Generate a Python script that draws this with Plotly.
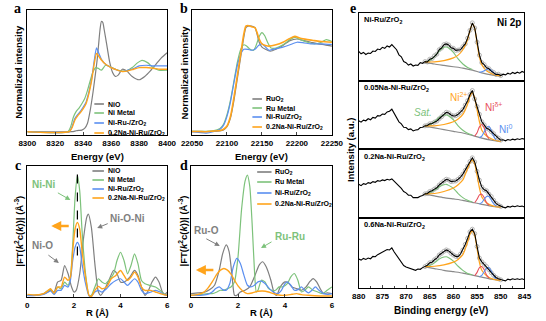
import plotly.graph_objects as go

W, H = 546, 321
SANS = "Liberation Sans, Arial, sans-serif"
SERIF = "Liberation Serif, Times New Roman, serif"

GRAY = "#7f7f7f"
GREEN = "#7dc27b"
BLUE = "#5b8ff0"
ORANGE = "#ffa41c"
RED = "#e8515c"
BGLINE = "#8a8a8a"

# ---------------- Panel a: Ni K-edge XANES ----------------
a_names = ["NiO", "Ni Metal", "Ni-Ru-/ZrO<sub>2</sub>", "0.2Na-Ni-Ru/ZrO<sub>2</sub>"]
a_nio_E = [8300, 8332, 8335, 8337, 8339, 8341, 8343, 8345, 8347, 8349, 8350, 8351, 8352, 8353, 8354, 8355, 8357, 8359,
           8361, 8363, 8365, 8368, 8371, 8375, 8380, 8384, 8388, 8392, 8396, 8400]
a_nio_mu = [0.1, 0.1, 0.13, 0.14, 0.15, 0.2, 0.35, 0.75, 1.3, 1.95, 2.3, 2.75, 3.2, 3.45, 3.42, 3.2, 2.7, 2.2,
            1.9, 1.78, 1.82, 2.0, 1.95, 1.78, 1.68, 1.78, 1.95, 2.15, 2.35, 2.5]
a_met_E = [8300, 8329, 8331, 8333, 8335, 8337, 8339, 8341, 8343, 8345, 8347, 8349, 8351, 8353, 8356, 8359, 8363,
           8367, 8371, 8375, 8379, 8382, 8386, 8390, 8394, 8400]
a_met_mu = [0.1, 0.1, 0.25, 0.55, 0.72, 0.82, 0.95, 1.1, 1.35, 1.65, 1.92, 2.05, 2.02, 1.97, 2.12, 2.08, 2.0,
            1.95, 1.95, 2.05, 2.2, 2.27, 2.2, 2.05, 1.97, 1.97]
a_cat_E = [8300, 8330, 8332, 8334, 8336, 8338, 8340, 8342, 8344, 8346, 8348, 8349.5, 8351, 8353, 8356, 8360, 8364,
           8368, 8372, 8376, 8380, 8385, 8390, 8395, 8400]
a_nirz_mu = [0.1, 0.1, 0.25, 0.5, 0.62, 0.72, 0.85, 1.0, 1.3, 1.7, 2.3, 2.65, 2.5, 2.3, 2.15, 2.05, 1.98,
             1.93, 1.97, 2.02, 2.1, 2.12, 2.1, 2.1, 2.1]
a_na_mu = [0.1, 0.1, 0.22, 0.45, 0.58, 0.68, 0.8, 0.95, 1.25, 1.65, 2.2, 2.48, 2.4, 2.28, 2.15, 2.05, 1.98,
           1.93, 1.95, 2.0, 2.05, 2.05, 2.03, 2.0, 2.0]

# ---------------- Panel b: Ru K-edge XANES ----------------
b_names = ["RuO<sub>2</sub>", "Ru Metal", "Ni-Ru/ZrO<sub>2</sub>", "0.2Na-Ni-Ru/ZrO<sub>2</sub>"]
b_ruo2_E = [22050, 22080, 22095, 22100, 22105, 22110, 22115, 22120, 22124, 22127, 22130, 22135, 22140, 22143, 22146,
            22150, 22155, 22162, 22170, 22180, 22190, 22200, 22210, 22220, 22230, 22240, 22250]
b_ruo2_mu = [0.03, 0.03, 0.08, 0.18, 0.45, 1.0, 1.7, 2.4, 2.95, 3.25, 3.3, 3.3, 3.25, 3.05, 2.8,
             2.65, 2.58, 2.52, 2.58, 2.7, 2.85, 2.9, 2.85, 2.8, 2.75, 2.72, 2.68]
b_met_E = [22050, 22080, 22090, 22095, 22100, 22105, 22110, 22115, 22120, 22124, 22128, 22133, 22138, 22142, 22146,
           22150, 22154, 22158, 22163, 22170, 22180, 22190, 22197, 22205, 22215, 22225, 22235, 22242, 22250]
b_met_mu = [0.03, 0.05, 0.12, 0.25, 0.55, 1.0, 1.6, 2.2, 2.6, 2.72, 2.68, 2.58, 2.55, 2.72, 2.98,
            3.1, 3.0, 2.8, 2.62, 2.62, 2.72, 2.88, 2.95, 2.88, 2.8, 2.75, 2.8, 2.88, 2.82]
b_nirz_E = [22050, 22060, 22070, 22080, 22090, 22095, 22100, 22105, 22110, 22115, 22120, 22124, 22130, 22135, 22140,
            22145, 22150, 22155, 22160, 22170, 22180, 22190, 22200, 22210, 22220, 22235, 22250]
b_nirz_mu = [0.02, 0.0, -0.02, 0.02, 0.1, 0.22, 0.5, 0.95, 1.55, 2.1, 2.45, 2.58, 2.58, 2.55, 2.58,
             2.7, 2.75, 2.65, 2.55, 2.6, 2.65, 2.72, 2.8, 2.78, 2.75, 2.75, 2.73]
b_na_E = [22050, 22060, 22070, 22080, 22090, 22095, 22100, 22105, 22110, 22115, 22120, 22124, 22127, 22130, 22135,
          22140, 22143, 22146, 22150, 22155, 22160, 22170, 22180, 22190, 22197, 22205, 22215, 22225, 22235, 22250]
b_na_mu = [0.03, 0.03, 0.02, 0.04, 0.06, 0.1, 0.2, 0.5, 1.1, 1.8, 2.5, 3.05, 3.3, 3.32, 3.28,
           3.25, 3.1, 2.9, 2.75, 2.7, 2.68, 2.72, 2.8, 2.92, 2.98, 2.92, 2.88, 2.85, 2.82, 2.8]

# ---------------- Panel c: Ni K-edge FT-EXAFS ----------------
c_names = ["NiO", "Ni Metal", "Ni-Ru/ZrO<sub>2</sub>", "0.2Na-Ni-Ru/ZrO<sub>2</sub>"]
c_nio_R = [0, 0.3, 0.6, 0.8, 1.0, 1.15, 1.3, 1.45, 1.6, 1.75, 1.9, 2.0, 2.1, 2.25, 2.4, 2.55, 2.62, 2.75, 2.9, 3.05,
           3.15, 3.3, 3.5, 3.7, 3.85, 4.0, 4.15, 4.4, 4.6, 4.75, 4.9, 5.05, 5.2, 5.35, 5.5, 5.65, 5.8, 5.9, 6.0]
c_nio_ft = [0.05, 0.05, 0.08, 0.12, 0.2, 0.15, 0.45, 0.5, 0.95, 0.7, 0.3, 0.15, 0.2, 0.7, 1.7, 2.4, 2.5, 2.1, 1.0, 0.15,
            0.05, 0.2, 0.5, 0.8, 0.7, 0.45, 0.45, 0.6, 0.8, 0.65, 0.3, 0.05, 0.2, 0.45, 0.6, 0.45, 0.15, 0.08, 0.15]
c_met_R = [0, 0.4, 0.7, 0.9, 1.0, 1.15, 1.3, 1.45, 1.6, 1.75, 1.85, 1.95, 2.05, 2.15, 2.25, 2.35, 2.5, 2.65, 2.75,
           2.9, 3.05, 3.2, 3.35, 3.5, 3.7, 3.85, 4.0, 4.15, 4.3, 4.45, 4.6, 4.75, 4.9, 5.05, 5.25, 5.5, 5.7, 5.85, 6.0]
c_met_ft = [0.05, 0.05, 0.1, 0.2, 0.22, 0.1, 0.3, 0.25, 0.45, 0.35, 0.6, 1.6, 3.0, 3.67, 3.2, 2.0, 0.7, 0.05, 0.05,
            0.3, 0.55, 0.45, 0.4, 0.5, 0.7, 1.1, 1.35, 1.1, 0.7, 0.95, 1.3, 1.0, 0.5, 0.4, 0.35, 0.3, 0.2, 0.1, 0.05]
c_cat_R = [0, 0.4, 0.7, 0.9, 1.0, 1.15, 1.3, 1.45, 1.6, 1.75, 1.85, 1.95, 2.05, 2.15, 2.25, 2.35, 2.5, 2.65, 2.75,
           2.9, 3.05, 3.2, 3.4, 3.6, 3.8, 4.0, 4.15, 4.3, 4.45, 4.6, 4.75, 4.9, 5.05, 5.3, 5.5, 5.7, 5.85, 6.0]
c_nirz_ft = [0.04, 0.05, 0.08, 0.15, 0.18, 0.08, 0.2, 0.2, 0.35, 0.3, 0.5, 1.1, 1.5, 1.65, 1.5, 1.0, 0.4, 0.03, 0.02,
             0.15, 0.2, 0.15, 0.25, 0.4, 0.5, 0.55, 0.45, 0.35, 0.45, 0.55, 0.45, 0.2, 0.1, 0.15, 0.2, 0.15, 0.08, 0.05]
c_na_ft = [0.08, 0.06, 0.1, 0.2, 0.25, 0.12, 0.3, 0.3, 0.6, 0.5, 0.6, 1.4, 2.05, 2.25, 2.05, 1.4, 0.6, 0.05, 0.02,
           0.2, 0.32, 0.25, 0.3, 0.55, 0.65, 0.8, 0.65, 0.5, 0.6, 0.75, 0.6, 0.3, 0.2, 0.2, 0.15, 0.1, 0.07, 0.05]
c_ni_ni_R = 2.15

# ---------------- Panel d: Ru K-edge FT-EXAFS ----------------
d_names = ["RuO<sub>2</sub>", "Ru Metal", "Ni-Ru/ZrO<sub>2</sub>", "0.2Na-Ni-Ru/ZrO<sub>2</sub>"]
d_ruo2_R = [0, 0.3, 0.6, 0.8, 1.0, 1.2, 1.35, 1.5, 1.62, 1.75, 1.85, 1.95, 2.1, 2.3, 2.5, 2.7, 2.9, 3.05, 3.2, 3.4,
            3.55, 3.65, 3.8, 4.0, 4.15, 4.3, 4.5, 4.7, 4.9, 5.05, 5.2, 5.35, 5.5, 5.65, 5.8, 6.0]
d_ruo2_ft = [0.1, 0.12, 0.15, 0.22, 0.35, 0.8, 1.3, 1.55, 1.35, 0.6, 0.05, 0.05, 0.15, 0.2, 0.3, 0.6, 0.95, 1.05, 0.9,
             0.5, 0.1, 0.05, 0.3, 0.45, 0.42, 0.3, 0.25, 0.2, 0.3, 0.45, 0.55, 0.45, 0.25, 0.1, 0.12, 0.1]
d_met_R = [0, 0.4, 0.7, 0.9, 1.1, 1.25, 1.4, 1.55, 1.7, 1.85, 2.0, 2.15, 2.3, 2.4, 2.5, 2.6, 2.7, 2.78, 2.85, 3.0,
           3.15, 3.3, 3.45, 3.6, 3.75, 3.9, 4.1, 4.25, 4.4, 4.55, 4.7, 4.85, 5.0, 5.2, 5.4, 5.6, 5.8, 6.0]
d_met_ft = [0.05, 0.07, 0.1, 0.1, 0.15, 0.2, 0.2, 0.25, 0.3, 0.45, 1.2, 2.6, 3.45, 3.63, 3.3, 2.2, 0.8, 0.15, 0.2, 0.5,
            0.45, 0.25, 0.2, 0.2, 0.3, 0.3, 0.4, 0.6, 0.7, 0.5, 0.15, 0.2, 0.3, 0.2, 0.15, 0.1, 0.2, 0.3]
d_nirz_R = [0, 0.4, 0.7, 0.9, 1.05, 1.2, 1.35, 1.5, 1.65, 1.8, 1.95, 2.1, 2.25, 2.4, 2.55, 2.7, 2.85, 3.0, 3.15, 3.3,
            3.5, 3.7, 3.85, 4.0, 4.1, 4.25, 4.4, 4.55, 4.7, 4.85, 5.0, 5.15, 5.3, 5.45, 5.65, 5.85, 6.0]
d_nirz_ft = [0.05, 0.05, 0.08, 0.15, 0.25, 0.3, 0.22, 0.2, 0.4, 0.9, 1.15, 1.0, 0.65, 0.35, 0.3, 0.35, 0.45, 0.47, 0.4,
             0.28, 0.15, 0.1, 0.2, 0.4, 0.45, 0.35, 0.2, 0.22, 0.3, 0.2, 0.12, 0.2, 0.3, 0.2, 0.1, 0.08, 0.1]
d_na_R = [0, 0.3, 0.5, 0.7, 0.9, 1.1, 1.25, 1.4, 1.55, 1.7, 1.85, 2.0, 2.2, 2.4, 2.6, 2.85, 3.05, 3.3, 3.5, 3.8,
          4.0, 4.3, 4.5, 4.7, 5.0, 5.5, 6.0]
d_na_ft = [0.05, 0.08, 0.12, 0.25, 0.45, 0.68, 0.8, 0.85, 0.8, 0.68, 0.5, 0.33, 0.18, 0.1, 0.12, 0.17, 0.18, 0.15, 0.1,
           0.05, 0.05, 0.08, 0.1, 0.07, 0.05, 0.03, 0.03]

# ---------------- Panel e: Ni 2p XPS ----------------
e_samples = ["Ni-Ru/ZrO<sub>2</sub>", "0.05Na-Ni-Ru/ZrO<sub>2</sub>",
             "0.2Na-Ni-Ru/ZrO<sub>2</sub>", "0.6Na-Ni-Ru/ZrO<sub>2</sub>"]
e_be = [880.0, 879.5, 879.0, 878.5, 878.0, 877.5, 877.0, 876.5, 876.0, 875.5, 875.0, 874.5, 874.0, 873.5, 873.0,
        872.5, 872.0, 871.5, 871.0, 870.5, 870.0, 869.5, 869.0, 868.5, 868.0, 867.5, 867.0, 866.5, 866.0, 865.5,
        865.0, 864.5, 864.0, 863.5, 863.0, 862.5, 862.0, 861.5, 861.0, 860.5, 860.0, 859.5, 859.0, 858.5, 858.0,
        857.5, 857.0, 856.5, 856.0, 855.5, 855.0, 854.5, 854.0, 853.5, 853.0, 852.5, 852.0, 851.5, 851.0, 850.5,
        850.0, 849.5, 849.0, 848.5, 848.0, 847.5, 847.0, 846.5, 846.0, 845.5, 845.0]
e_int = [
    [0.87, 0.80, 0.84, 0.78, 0.82, 0.81, 0.88, 0.87, 0.94, 0.92, 0.99, 0.96, 1.03, 1.00, 1.07,
     0.98, 0.92, 0.77, 0.71, 0.57, 0.54, 0.47, 0.50, 0.44, 0.47, 0.46, 0.54, 0.52, 0.57, 0.56,
     0.64, 0.66, 0.74, 0.79, 0.92, 0.97, 1.07, 1.09, 1.06, 0.98, 0.96, 0.90, 0.91, 0.92, 1.01,
     1.09, 1.26, 1.49, 1.71, 1.56, 1.14, 0.76, 0.54, 0.48, 0.39, 0.36, 0.29, 0.25, 0.19, 0.20,
     0.16, 0.20, 0.18, 0.23, 0.20, 0.25, 0.22, 0.26, 0.23, 0.28, 0.25],
    [0.83, 0.79, 0.85, 0.83, 0.89, 0.86, 0.93, 0.91, 0.98, 0.97, 1.03, 1.02, 1.09, 1.11, 1.17,
     1.04, 0.93, 0.80, 0.74, 0.64, 0.63, 0.57, 0.59, 0.53, 0.56, 0.57, 0.63, 0.64, 0.68, 0.69,
     0.74, 0.75, 0.79, 0.82, 0.89, 0.95, 1.02, 1.08, 1.06, 1.00, 0.97, 0.98, 1.02, 1.08, 1.16,
     1.29, 1.42, 1.60, 1.72, 1.47, 1.25, 1.02, 0.80, 0.71, 0.61, 0.58, 0.51, 0.45, 0.36, 0.32,
     0.26, 0.27, 0.24, 0.28, 0.26, 0.29, 0.27, 0.30, 0.28, 0.31, 0.29],
    [0.99, 0.95, 1.01, 0.99, 1.04, 1.02, 1.07, 1.05, 1.10, 1.08, 1.12, 1.10, 1.14, 1.12, 1.15,
     1.08, 1.03, 0.93, 0.87, 0.78, 0.74, 0.67, 0.67, 0.60, 0.61, 0.60, 0.64, 0.66, 0.71, 0.72,
     0.78, 0.80, 0.85, 0.89, 0.97, 1.03, 1.09, 1.14, 1.12, 1.07, 1.08, 1.09, 1.14, 1.20, 1.29,
     1.40, 1.52, 1.66, 1.77, 1.65, 1.37, 1.11, 0.91, 0.83, 0.80, 0.70, 0.63, 0.52, 0.43, 0.38,
     0.34, 0.32, 0.30, 0.34, 0.32, 0.35, 0.33, 0.36, 0.34, 0.35, 0.32],
    [0.85, 0.82, 0.87, 0.84, 0.88, 0.86, 0.93, 0.92, 0.98, 1.02, 1.06, 1.08, 1.13, 1.12, 1.18,
     1.06, 0.96, 0.83, 0.73, 0.66, 0.62, 0.60, 0.57, 0.55, 0.52, 0.56, 0.55, 0.60, 0.63, 0.67,
     0.74, 0.76, 0.83, 0.88, 0.97, 1.02, 1.08, 1.12, 1.09, 1.02, 0.97, 0.93, 0.92, 1.00, 1.12,
     1.28, 1.46, 1.65, 1.73, 1.60, 1.22, 0.88, 0.77, 0.70, 0.63, 0.54, 0.45, 0.37, 0.31, 0.27,
     0.24, 0.23, 0.21, 0.26, 0.24, 0.27, 0.25, 0.27, 0.25, 0.27, 0.24],
]
# Shirley-type background
e_bg_be = [866, 864, 862, 860, 858, 856, 854, 852, 850]
e_bg = [
    [0.55, 0.50, 0.46, 0.42, 0.38, 0.32, 0.24, 0.18, 0.15],
    [0.67, 0.62, 0.57, 0.52, 0.47, 0.40, 0.32, 0.26, 0.22],
    [0.70, 0.65, 0.60, 0.56, 0.52, 0.46, 0.40, 0.35, 0.32],
    [0.62, 0.57, 0.52, 0.48, 0.44, 0.38, 0.32, 0.26, 0.23],
]
# Satellite component
e_sat_be = [866, 865, 864, 863, 862, 861.5, 861, 860, 859, 858, 857, 856]
e_sat = [
    [0.56, 0.60, 0.72, 0.88, 0.99, 1.00, 0.97, 0.84, 0.65, 0.50, 0.40, 0.34],
    [0.68, 0.71, 0.80, 0.93, 0.99, 1.00, 0.97, 0.86, 0.68, 0.55, 0.46, 0.41],
    [0.71, 0.74, 0.82, 0.92, 0.98, 0.99, 0.96, 0.87, 0.72, 0.60, 0.52, 0.47],
    [0.63, 0.66, 0.74, 0.85, 0.91, 0.92, 0.89, 0.79, 0.64, 0.52, 0.43, 0.39],
]
# Ni2+ component
e_ni2_be = [866, 864, 862, 860, 859, 858, 857.5, 857, 856.5, 856, 855.5, 855, 854.5, 854, 853, 852, 851, 850]
e_ni2 = [
    [0.56, 0.56, 0.60, 0.68, 0.76, 0.92, 1.05, 1.22, 1.48, 1.68, 1.55, 1.10, 0.70, 0.48, 0.30, 0.22, 0.17, 0.15],
    [0.68, 0.68, 0.72, 0.80, 0.88, 1.02, 1.15, 1.32, 1.55, 1.66, 1.50, 1.15, 0.80, 0.55, 0.38, 0.30, 0.25, 0.22],
    [0.71, 0.72, 0.78, 0.88, 0.98, 1.12, 1.28, 1.45, 1.62, 1.70, 1.58, 1.25, 0.88, 0.62, 0.45, 0.37, 0.33, 0.32],
    [0.63, 0.64, 0.68, 0.76, 0.84, 0.98, 1.15, 1.35, 1.58, 1.68, 1.55, 1.15, 0.75, 0.52, 0.36, 0.28, 0.24, 0.23],
]
# Ni(delta+) component (absent in the first sample)
e_nid_be = [855.5, 855, 854.5, 854, 853.5, 853, 852.5]
e_nid = [
    None,
    [0.38, 0.48, 0.65, 0.72, 0.62, 0.42, 0.30],
    [0.45, 0.55, 0.68, 0.70, 0.60, 0.45, 0.37],
    [0.36, 0.46, 0.60, 0.63, 0.54, 0.38, 0.29],
]
# Ni0 component
e_ni0_be = [854.5, 854, 853.5, 853, 852.5, 852, 851.5, 851]
e_ni0 = [
    [0.26, 0.27, 0.30, 0.34, 0.36, 0.32, 0.24, 0.18],
    [0.33, 0.38, 0.50, 0.63, 0.67, 0.55, 0.38, 0.26],
    [0.41, 0.45, 0.55, 0.63, 0.63, 0.53, 0.42, 0.35],
    [0.33, 0.37, 0.48, 0.58, 0.60, 0.50, 0.36, 0.27],
]

for s in e_int:
    assert len(s) == len(e_be)

# ---------------- Figure ----------------
fig = go.Figure()


def X(px):
    return px / W


def Y(py):
    return 1 - py / H


def add_line(ax, x, y, color, width=1.2, shape="spline", smoothing=0.6, mode="lines", marker=None):
    kw = dict(x=x, y=y, mode=mode, xaxis="x" + ax, yaxis="y" + ax, showlegend=False, hoverinfo="skip",
              line=dict(color=color, width=width, shape=shape, smoothing=smoothing))
    if marker:
        kw["marker"] = marker
    fig.add_trace(go.Scatter(**kw))


# Panel a
add_line("", a_nio_E, a_nio_mu, GRAY)
add_line("", a_met_E, a_met_mu, GREEN)
add_line("", a_cat_E, a_nirz_mu, BLUE)
add_line("", a_cat_E, a_na_mu, ORANGE, width=1.4)
# Panel b
add_line("2", b_ruo2_E, b_ruo2_mu, GRAY)
add_line("2", b_met_E, b_met_mu, GREEN)
add_line("2", b_nirz_E, b_nirz_mu, BLUE)
add_line("2", b_na_E, b_na_mu, ORANGE, width=1.6)
# Panel c
add_line("3", c_nio_R, c_nio_ft, GRAY)
add_line("3", c_met_R, c_met_ft, GREEN)
add_line("3", c_cat_R, c_nirz_ft, BLUE)
add_line("3", c_cat_R, c_na_ft, ORANGE, width=1.4)
# Panel d
add_line("4", d_ruo2_R, d_ruo2_ft, GRAY)
add_line("4", d_met_R, d_met_ft, GREEN)
add_line("4", d_nirz_R, d_nirz_ft, BLUE)
add_line("4", d_na_R, d_na_ft, ORANGE, width=1.4)

# Panel e
for i in range(4):
    ax = str(5 + i)
    fit_idx = [k for k, b in enumerate(e_be) if 850 <= b <= 866]
    add_line(ax, [e_be[k] for k in fit_idx], [e_int[i][k] for k in fit_idx], "#b0b0b0", mode="markers",
             marker=dict(symbol="circle-open", size=4, color="#b5b5b5", line=dict(width=1)))
    add_line(ax, e_bg_be, e_bg[i], BGLINE, width=1.2)
    add_line(ax, e_sat_be, e_sat[i], GREEN, width=1.1)
    add_line(ax, e_ni2_be, e_ni2[i], ORANGE, width=1.2)
    if e_nid[i] is not None:
        add_line(ax, e_nid_be, e_nid[i], RED, width=1.1)
    add_line(ax, e_ni0_be, e_ni0[i], BLUE, width=1.1)
    add_line(ax, e_be, e_int[i], "black", width=1.1, shape="linear")

# ---------------- Axes ----------------
TICKFONT = dict(family=SANS, size=8, color="black", weight="bold")


def box(domain, rng, **kw):
    d = dict(domain=domain, range=rng, showline=True, mirror=True, linecolor="black", linewidth=1,
             showgrid=False, zeroline=False, fixedrange=True)
    d.update(kw)
    return d


def xax(px0, px1, rng, anchor, labels=True, **kw):
    if labels:
        return box([X(px0), X(px1)], rng, anchor=anchor, ticks="inside", ticklen=3, tickwidth=1,
                   tickfont=TICKFONT, tickformat="d", **kw)
    return box([X(px0), X(px1)], rng, anchor=anchor, showticklabels=False, ticks="")


def yax(py0, py1, rng, anchor):
    return box([Y(py1), Y(py0)], rng, anchor=anchor, showticklabels=False, ticks="")


layout = dict(
    width=W, height=H, margin=dict(l=0, r=0, t=0, b=0),
    paper_bgcolor="white", plot_bgcolor="white", showlegend=False,
    xaxis=xax(17, 163, [8300, 8400], "y", tick0=8300, dtick=20),
    yaxis=yax(10, 135, [0, 3.8], "x"),
    xaxis2=xax(189, 335, [22050, 22250], "y2", tick0=22050, dtick=50),
    yaxis2=yax(10, 135, [-0.08, 3.8], "x2"),
    xaxis3=xax(17, 163, [0, 6], "y3", tick0=0, dtick=2),
    yaxis3=yax(166, 297, [0, 3.95], "x3"),
    xaxis4=xax(188, 335, [0, 6], "y4", tick0=0, dtick=2),
    yaxis4=yax(166, 297, [0, 3.9], "x4"),
)
e_rows = [(13, 81), (81, 149), (149, 218), (218, 288)]
for i, (t, b) in enumerate(e_rows):
    n = 5 + i
    last = i == 3
    layout["xaxis%d" % n] = xax(363, 536, [880, 845], "y%d" % n, labels=last, tick0=845, dtick=5,
                                **({"minor": dict(ticks="inside", ticklen=2, dtick=2.5, tick0=845)} if last else {}))
    layout["yaxis%d" % n] = yax(t, b, [0, (b - t) / 34.0], "x%d" % n)
fig.update_layout(**layout)

# ---------------- Annotations / decorations ----------------
ann = []
shapes = []


def text(s, px, py, size=9, color="black", bold=True, family=SANS, xanchor="center", angle=0, italic=False):
    t = s
    if italic:
        t = "<i>" + t + "</i>"
    if bold:
        t = "<b>" + t + "</b>"
    ann.append(dict(text=t, x=X(px), y=Y(py), xref="paper", yref="paper", showarrow=False,
                    xanchor=xanchor, yanchor="middle", textangle=angle,
                    font=dict(family=family, size=size, color=color)))


def arrow(x0, y0, x1, y1, color, width=1.0, size=1.0):
    ann.append(dict(text="", x=X(x1), y=Y(y1), xref="paper", yref="paper", showarrow=True,
                    ax=x0 - x1, ay=y0 - y1, axref="pixel", ayref="pixel",
                    arrowhead=2, arrowsize=size, arrowwidth=width, arrowcolor=color, standoff=0))


# panel letters
for s, px, py in [("a", 7, 8), ("b", 181, 8), ("c", 7, 166), ("d", 181, 166), ("e", 357, 8)]:
    text(s, px, py, size=14, family=SERIF)

# axis titles
text("Energy (eV)", 90, 156, size=9.5)
text("Energy (eV)", 262, 156, size=9.5)
text("R (Å)", 90, 312, size=9.5)
text("R (Å)", 262, 312, size=9.5)
text("Binding energy (eV)", 449, 310, size=10)
text("Normalized intensity", 7, 72, size=9.5, angle=-90)
text("Normalized intensity", 181, 72, size=9.5, angle=-90)
ft_title = "|FT(<i>k</i><sup>2</sup>c(<i>k</i>))| (Å<sup>-3</sup>)"
text(ft_title, 8, 231, size=9.5, angle=-90)
text(ft_title, 180, 231, size=9.5, angle=-90)
text("Intensity (a.u.)", 354, 150, size=9.5, angle=-90)

# legends
LEG_COLORS = [GRAY, GREEN, BLUE, ORANGE]


def legend(names, x0, x1, xt, rows):
    for nm, col, r in zip(names, LEG_COLORS, rows):
        shapes.append(dict(type="line", xref="paper", yref="paper", x0=X(x0), x1=X(x1), y0=Y(r), y1=Y(r),
                           line=dict(color=col, width=1.6)))
        text(nm, xt, r, size=7, xanchor="left")


legend(a_names, 87, 97, 99, [104, 113, 123, 133])
legend(b_names, 252, 262, 264, [99, 108, 117, 127])
legend(c_names, 85, 97, 99, [171, 180, 189, 198])
legend(d_names, 257, 272, 274, [172, 182, 193, 204])

# panel c annotations
text("Ni-Ni", 34, 185, size=10, color=GREEN)
arrow(48, 192, 62, 200, GREEN)
arrow(61, 226, 42, 226, ORANGE, width=2.5, size=0.8)
text("Ni-O-Ni", 122, 218, size=10, color=GRAY)
arrow(102, 223, 90, 228, GRAY)
text("Ni-O", 33, 245, size=10, color=GRAY)
arrow(38, 254, 50, 263, GRAY)
shapes.append(dict(type="line", xref="x3", yref="y3", x0=c_ni_ni_R, x1=c_ni_ni_R, y0=1.25, y1=3.85,
                   line=dict(color="black", width=1.2, dash="dash")))

# panel d annotations
text("Ru-O", 204, 230, size=10, color=GRAY)
arrow(203, 238, 218, 246, GRAY)
text("Ru-Ru", 291, 236, size=10, color=GREEN)
arrow(273, 241, 261, 248, GREEN)
arrow(212, 270, 193, 270, ORANGE, width=2.5, size=0.8)

# panel e annotations
for nm, py in zip(e_samples, [20, 88, 157, 225]):
    text(nm, 366, py, size=7.5, xanchor="left")
text("Ni 2p", 534, 22, size=10, xanchor="right")
text("Sat.", 430, 113, size=10, color=GREEN, bold=False, italic=True)
text("Ni<sup>2+</sup>", 467, 97, size=10, color=ORANGE, bold=False)
text("Ni<sup>δ+</sup>", 504, 107, size=10, color=RED, bold=False)
text("Ni<sup>0</sup>", 516, 129, size=10, color=BLUE, bold=False)

fig.update_layout(annotations=ann, shapes=shapes)
fig.write_html("out.html")
